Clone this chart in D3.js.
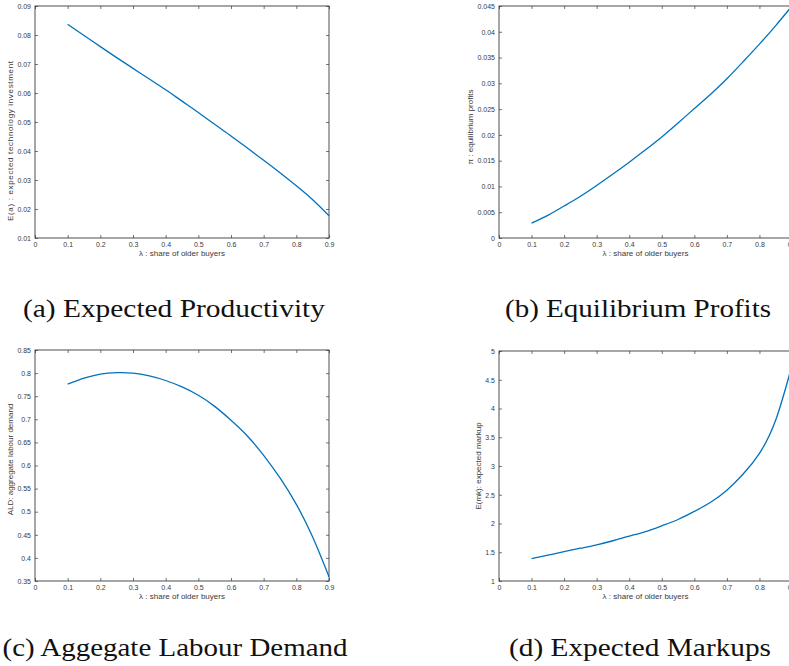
<!DOCTYPE html>
<html>
<head>
<meta charset="utf-8">
<style>
  body { margin: 0; background: #fff; }
  svg { display: block; }
  .tick text { font-family: "Liberation Sans", Arial, sans-serif; font-size: 7px; fill: #3a3a3a; }
  .tick line { stroke: #3a3a3a; stroke-width: 0.7; }
  .domain { display: none; }
  .box { fill: none; stroke: #3a3a3a; stroke-width: 0.9; }
  .lbl { font-family: "Liberation Sans", Arial, sans-serif; font-size: 8px; fill: #3a3a3a; }
  .line { fill: none; stroke: #0072BD; stroke-width: 1.3; }
  .caption { font-family: "Liberation Serif", "DejaVu Serif", serif; font-size: 25px; fill: #111; }
</style>
</head>
<body>
<svg width="789" height="666"></svg>
<script src="https://cdnjs.cloudflare.com/ajax/libs/d3/7.8.5/d3.min.js"></script>
<script>

// share of older buyers
var lambda = [0.1, 0.15, 0.2, 0.25, 0.3, 0.35, 0.4, 0.45, 0.5, 0.55, 0.6, 0.65, 0.7, 0.75, 0.8, 0.85, 0.9];

// (a) expected technology investment
var expProductivity = [0.0837, 0.0798, 0.0760, 0.0722, 0.0685, 0.0648, 0.0611, 0.0572, 0.0533,
  0.0492, 0.0452, 0.0410, 0.0368, 0.0325, 0.0280, 0.0232, 0.0177];
// (b) equilibrium profits
var eqProfits = [0.0029, 0.0044, 0.0062, 0.0081, 0.0102, 0.0124, 0.0147, 0.0171, 0.0196,
  0.0223, 0.0251, 0.0279, 0.0309, 0.0342, 0.0376, 0.0412, 0.0450];
// (c) aggregate labour demand
var labourDemand = [0.776, 0.789, 0.798, 0.801, 0.800, 0.794, 0.784, 0.770, 0.752,
  0.728, 0.698, 0.664, 0.622, 0.573, 0.516, 0.445, 0.359];
// (d) expected markup
var expMarkup = [1.39, 1.45, 1.51, 1.57, 1.63, 1.70, 1.78, 1.86, 1.96,
  2.07, 2.21, 2.37, 2.58, 2.86, 3.22, 3.80, 4.75];

var xTicks = [0, 0.1, 0.2, 0.3, 0.4, 0.5, 0.6, 0.7, 0.8, 0.9];
var yTicksA = [0.01, 0.02, 0.03, 0.04, 0.05, 0.06, 0.07, 0.08, 0.09];
var yTicksB = [0, 0.005, 0.01, 0.015, 0.02, 0.025, 0.03, 0.035, 0.04, 0.045];
var yTicksC = [0.35, 0.4, 0.45, 0.5, 0.55, 0.6, 0.65, 0.7, 0.75, 0.8, 0.85];
var yTicksD = [1, 1.5, 2, 2.5, 3, 3.5, 4, 4.5, 5];

var xLabel = "\u03bb : share of older buyers";

var panels = [
  { left: 35, top: 6, width: 294, height: 232, ticks: yTicksA, values: expProductivity,
    ylabel: "E(a) : expected technology investment", ylen: 160, ydy: 19,
    caption: "(a) Expected Productivity", capX: 174, capY: 317, capW: 302 },
  { left: 499, top: 6, width: 293, height: 232, ticks: yTicksB, values: eqProfits,
    ylabel: "\u03c0 : equilibrium profits", ydy: 5,
    caption: "(b) Equilibrium Profits", capX: 638, capY: 317, capW: 266 },
  { left: 35, top: 350, width: 294, height: 231, ticks: yTicksC, values: labourDemand,
    ylabel: "ALD: aggregate labour demand", ydy: -6,
    caption: "(c) Aggegate Labour Demand", capX: 175, capY: 656, capW: 345 },
  { left: 499, top: 351, width: 293, height: 230, ticks: yTicksD, values: expMarkup,
    ylabel: "E(mk): expected markup", ydy: 0,
    caption: "(d) Expected Markups", capX: 640, capY: 656, capW: 262 }
];

var svg = d3.select("svg");

panels.forEach(function (p) {
  var g = svg.append("g").attr("transform", "translate(" + p.left + "," + p.top + ")");

  var x = d3.scaleLinear().domain([0, 0.9]).range([0, p.width]);
  var y = d3.scaleLinear().domain(d3.extent(p.ticks)).range([p.height, 0]);

  var fmt = function (d) { return String(+d.toFixed(4)); };

  g.append("g")
    .attr("transform", "translate(0," + p.height + ")")
    .call(d3.axisBottom(x).tickValues(xTicks).tickFormat(fmt)
      .tickSizeInner(-3).tickSizeOuter(0).tickPadding(4));

  g.append("g")
    .call(d3.axisTop(x).tickValues(xTicks).tickFormat("")
      .tickSizeInner(-3).tickSizeOuter(0));

  var yAxis = g.append("g")
    .call(d3.axisLeft(y).tickValues(p.ticks).tickFormat(fmt)
      .tickSizeInner(-3).tickSizeOuter(0).tickPadding(4));

  g.append("g")
    .attr("transform", "translate(" + p.width + ",0)")
    .call(d3.axisRight(y).tickValues(p.ticks).tickFormat("")
      .tickSizeInner(-3).tickSizeOuter(0));

  g.append("rect")
    .attr("class", "box")
    .attr("width", p.width)
    .attr("height", p.height);

  var line = d3.line()
    .x(function (d, i) { return x(lambda[i]); })
    .y(function (d) { return y(d); })
    .curve(d3.curveNatural);

  g.append("path")
    .attr("class", "line")
    .attr("d", line(p.values));

  g.append("text")
    .attr("class", "lbl")
    .attr("x", p.width / 2)
    .attr("y", p.height + 18)
    .attr("text-anchor", "middle")
    .text(xLabel);

  var bb = yAxis.node().getBBox();
  var yl = g.append("text")
    .attr("class", "lbl")
    .attr("transform", "translate(" + (bb.x - 7) + "," + (p.height / 2 + p.ydy) + ") rotate(-90)")
    .attr("text-anchor", "middle")
    .attr("dy", "0.35em")
    .text(p.ylabel);
  if (p.ylen) yl.attr("textLength", p.ylen).attr("lengthAdjust", "spacing");

  svg.append("text")
    .attr("class", "caption")
    .attr("x", p.capX)
    .attr("y", p.capY)
    .attr("text-anchor", "middle")
    .attr("textLength", p.capW)
    .attr("lengthAdjust", "spacingAndGlyphs")
    .text(p.caption);
});

</script>
</body>
</html>
